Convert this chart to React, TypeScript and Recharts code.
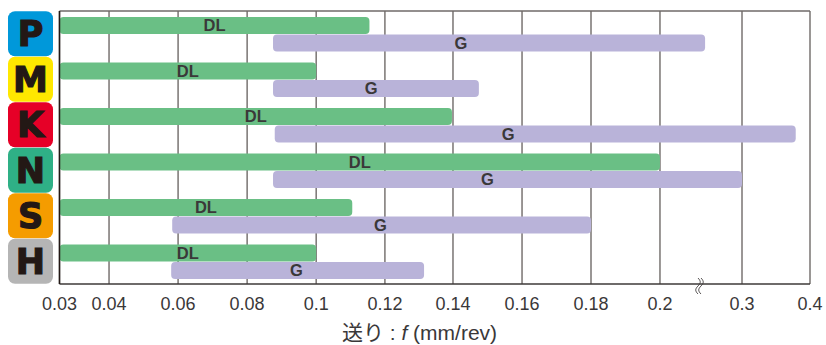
import { BarChart, Bar, XAxis, YAxis, CartesianGrid, LabelList } from "recharts";

// ISO groups, top to bottom
const groups = ["P", "M", "K", "N", "S", "H"];
const groupColors = ["#0098da", "#ffe800", "#e60027", "#2fb086", "#f59c00", "#b5b5b5"];

const dlStart = [0.03, 0.03, 0.03, 0.03, 0.03, 0.03];
const dlEnd = [0.1155, 0.1, 0.1397, 0.2, 0.1105, 0.1];
const gStart = [0.0875, 0.0875, 0.088, 0.0875, 0.0583, 0.058];
const gEnd = [0.255, 0.1475, 0.379, 0.3, 0.18, 0.1315];
// where the "G" text sits on the axis (not always the middle of the bar)
const gLabelAt = [0.1423, 0.116, 0.156, 0.15, 0.1187, 0.0943];

const xTicks = [0.03, 0.04, 0.06, 0.08, 0.1, 0.12, 0.14, 0.16, 0.18, 0.2, 0.3, 0.4];
// the printed axis is not linear, this is the share of the width up to each tick
const tickShare = [0, 0.066, 0.158, 0.25, 0.342, 0.4336, 0.5243, 0.6163, 0.7082, 0.8001, 0.9094, 1];

const PLOT_LEFT = 59.5;
const PLOT_WIDTH = 750.5;

const rows = groups.map((group, i) => ({
  group,
  dl: [dlStart[i], dlEnd[i]],
  g: [gStart[i], gEnd[i]],
}));

function shareOf(v: number) {
  for (let i = 1; i < xTicks.length; i++) {
    if (v <= xTicks[i]) {
      const t = (v - xTicks[i - 1]) / (xTicks[i] - xTicks[i - 1]);
      return tickShare[i - 1] + t * (tickShare[i] - tickShare[i - 1]);
    }
  }
  return 1;
}

// d3-like scale so recharts can use the broken axis
function brokenScale(domain: number[] = [0.03, 0.4], range: number[] = [0, 1]): any {
  const s: any = (v: number) => range[0] + shareOf(v) * (range[1] - range[0]);
  s.domain = (d?: number[]) => (d ? ((domain = d), s) : domain);
  s.range = (r?: number[]) => (r ? ((range = r), s) : range);
  s.copy = () => brokenScale(domain.slice(), range.slice());
  s.ticks = () => xTicks;
  return s;
}

const FONT = '"Liberation Sans", Arial, sans-serif';
const TEXT = "#3a3839";

function BadgeTick({ y, payload, index }: any) {
  return (
    <g>
      <rect x={8} y={y - 22.5} width={45} height={45} rx={7} fill={groupColors[index]} />
      <text
        x={30.5}
        y={y + 12.5}
        textAnchor="middle"
        fontFamily='"DejaVu Sans", sans-serif'
        fontWeight={700}
        fontSize={35}
        fill="#231815"
        stroke="#231815"
        strokeWidth={1.2}
      >
        {payload.value}
      </text>
    </g>
  );
}

function DlLabel({ x, y, width, height }: any) {
  return (
    <text x={x + width / 2} y={y + height / 2 + 5.5} textAnchor="middle" fontFamily={FONT} fontWeight={700} fontSize={16.5} fill={TEXT}>
      DL
    </text>
  );
}

function GLabel({ y, height, index }: any) {
  const x = PLOT_LEFT + shareOf(gLabelAt[index]) * PLOT_WIDTH;
  return (
    <text x={x} y={y + height / 2 + 5.5} textAnchor="middle" fontFamily={FONT} fontWeight={700} fontSize={16.5} fill={TEXT}>
      G
    </text>
  );
}

function AxisTitle() {
  return (
    <text x={419.5} y={340} textAnchor="middle" fontFamily={FONT} fontSize={21} fill={TEXT}>
      <tspan fontFamily='"Noto Sans CJK JP"'>送り</tspan>
      <tspan> : </tspan>
      <tspan fontStyle="italic">f</tspan>
      <tspan> (mm/rev)</tspan>
    </text>
  );
}

function BreakMark() {
  const x = PLOT_LEFT + shareOf(0.25) * PLOT_WIDTH;
  const wave = "c3 3 3 5 0 8 c-3 3 -3 5 0 8";
  return (
    <g fill="none" stroke="#4a4545" strokeWidth={0.9}>
      <path d={`M${x - 1.5} 278 ${wave}`} stroke="#fff" strokeWidth={4} />
      <path d={`M${x - 3} 278 ${wave}`} />
      <path d={`M${x} 278 ${wave}`} />
    </g>
  );
}

export default function App() {
  return (
    <div style={{ position: "absolute", left: 0, top: 0, width: 826, height: 345 }}>
      <BarChart
        width={826}
        height={345}
        data={rows}
        layout="vertical"
        margin={{ top: 11, right: 16, bottom: 0, left: 8 }}
        barCategoryGap={6}
        barGap={0.5}
      >
        <CartesianGrid
          stroke="#6f6a68"
          strokeWidth={1.4}
          horizontalCoordinatesGenerator={({ offset }: any) => [offset.top]}
        />
        <XAxis
          type="number"
          scale={brokenScale()}
          domain={[0.03, 0.4]}
          ticks={xTicks}
          interval={0}
          height={61}
          tickLine={false}
          axisLine={{ stroke: "#3e3a39", strokeWidth: 1.5 }}
          tickMargin={7}
          tick={{ fontSize: 18, fill: TEXT, fontFamily: FONT }}
        />
        <YAxis
          type="category"
          dataKey="group"
          width={51.5}
          interval={0}
          tickLine={false}
          axisLine={{ stroke: "#231815", strokeWidth: 1.5 }}
          tick={<BadgeTick />}
        />
        <Bar dataKey="dl" fill="#6abf85" radius={4} isAnimationActive={false}>
          <LabelList content={<DlLabel />} />
        </Bar>
        <Bar dataKey="g" fill="#b9b3d9" radius={4} isAnimationActive={false}>
          <LabelList content={<GLabel />} />
        </Bar>
        <BreakMark />
        <AxisTitle />
      </BarChart>
    </div>
  );
}
